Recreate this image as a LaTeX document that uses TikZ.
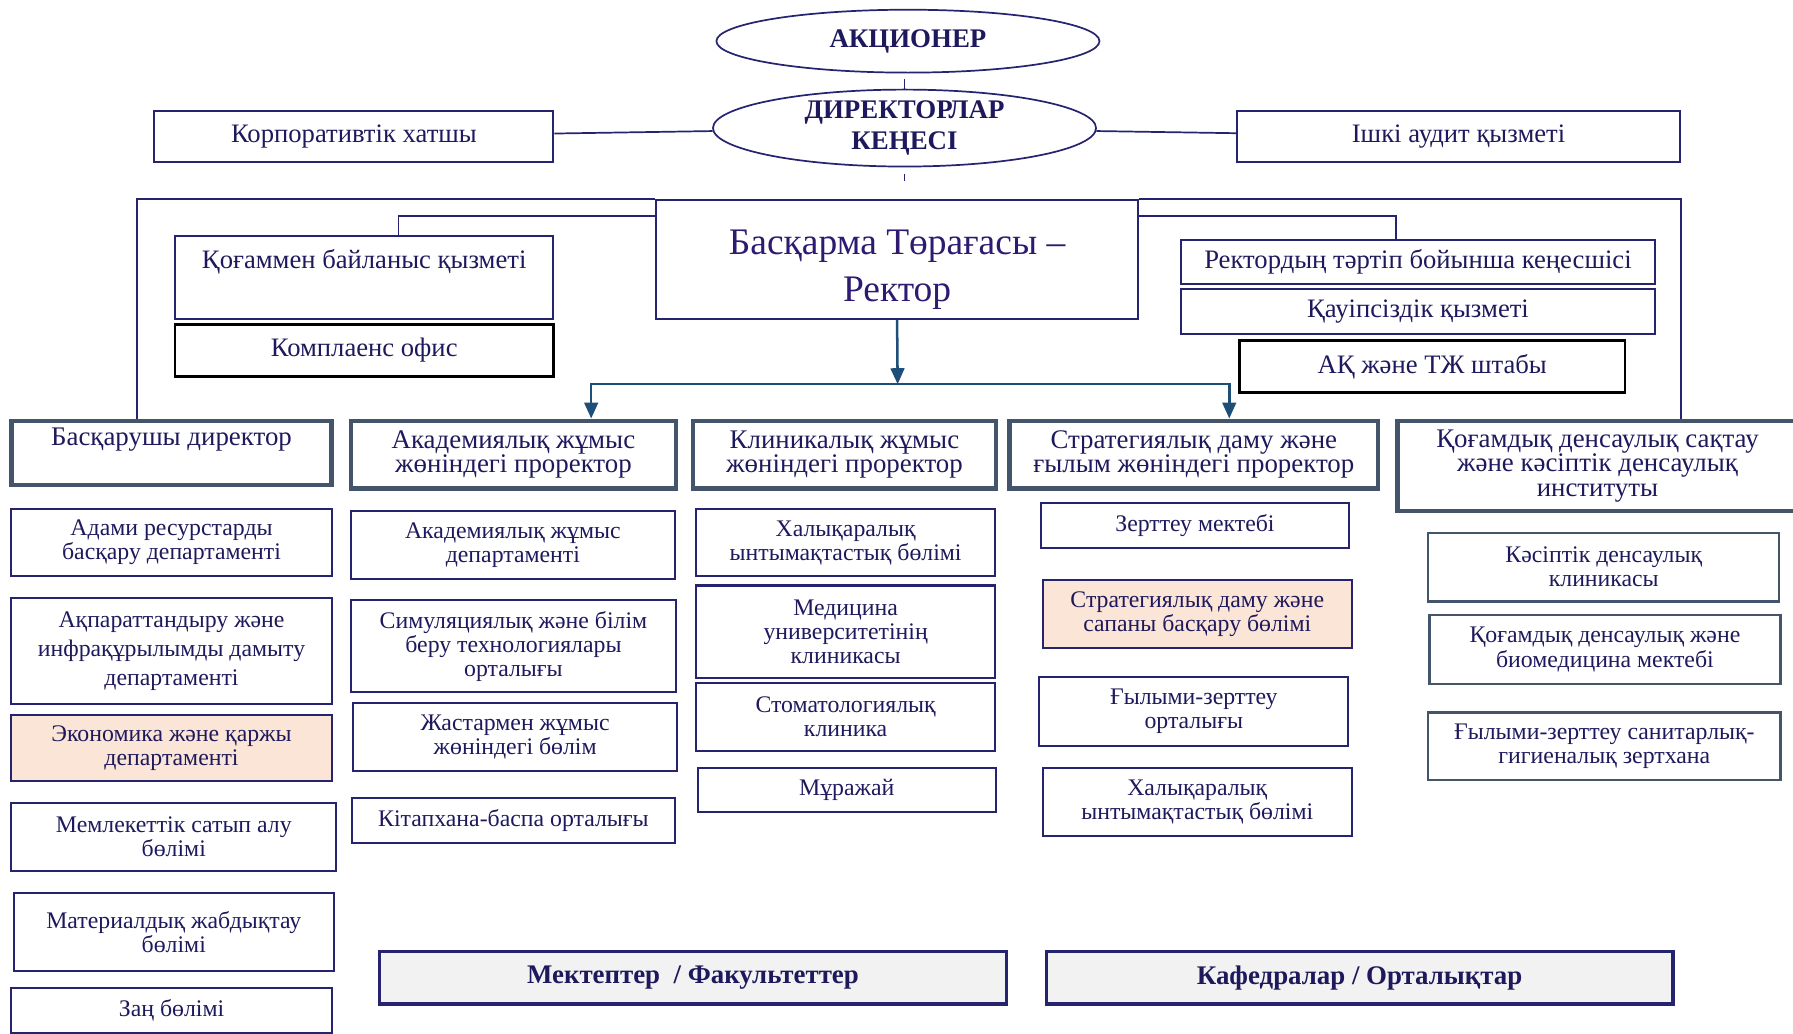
\documentclass[tikz,border=0pt]{standalone}
\usepackage{fontspec}
\setmainfont{Liberation Serif}
\usetikzlibrary{shapes.geometric,arrows.meta}
\definecolor{ink}{RGB}{30,25,92}
\definecolor{navy}{RGB}{38,36,112}
\definecolor{slate}{RGB}{68,84,106}
\definecolor{steel}{RGB}{31,78,121}
\definecolor{peach}{RGB}{251,229,214}
\definecolor{pale}{RGB}{242,242,242}
\definecolor{rektink}{RGB}{46,26,112}

\begin{document}
\begin{tikzpicture}[x=1pt,y=-1pt,
  unit/.style={draw=navy, line width=1.8pt, text=ink, align=center, inner sep=1pt, font=\fontsize{20.8}{21}\selectfont},
  head/.style={unit, draw=slate, line width=4pt, font=\fontsize{23.5}{21.5}\selectfont},
  sub/.style={unit, draw=slate, line width=2pt},
  hot/.style={unit, fill=peach},
  blk/.style={unit, draw=black, line width=2.4pt, font=\fontsize{23.3}{24}\selectfont},
  top/.style={unit, font=\fontsize{23.3}{24}\selectfont},
  oval/.style={ellipse, draw=navy, line width=1.5pt, text=ink, align=center, inner sep=0pt, font=\bfseries\fontsize{23.5}{27}\selectfont},
  foot/.style={unit, fill=pale, line width=2.8pt, font=\bfseries\fontsize{23.5}{24}\selectfont},
  link/.style={draw=navy, line width=1.5pt},
  arr/.style={draw=steel, line width=2.2pt, -{Triangle[length=14pt,width=12pt]}}]
\useasboundingbox (0,0) rectangle (1568,904);

\node[oval, minimum width=335pt, minimum height=55pt] (aksioner) at (794,36) {АКЦИОНЕР};
\node[oval, minimum width=335pt, minimum height=58pt] (kenes) at (791,112) {ДИРЕКТОРЛАР\\КЕҢЕСІ};
\node[top, minimum width=349pt, minimum height=45pt] (korp) at (309.5,119.5) {Корпоративтік хатшы};
\node[top, minimum width=387pt, minimum height=45pt] (audit) at (1275.5,119.5) {Ішкі аудит қызметі};
\coordinate (kenesend) at (791,158);

\node[unit, text=rektink, minimum width=421pt, minimum height=104pt, font=\fontsize{32.8}{41}\selectfont] (rektor) at (784.5,227) {\rule{0pt}{39pt}Басқарма Төрағасы –\\Ректор};
\node[top, minimum width=331pt, minimum height=73pt] (pr) at (318.5,242.5) {Қоғаммен байланыс қызметі\\\strut};
\node[blk, minimum width=331pt, minimum height=45pt] (komp) at (318.5,306.5) {Комплаенс офис};
\node[top, minimum width=414pt, minimum height=38pt] (kenesshi) at (1240,229) {Ректордың тәртіп бойынша кеңесшісі};
\node[top, minimum width=414pt, minimum height=39pt] (qauip) at (1240,272.5) {Қауіпсіздік қызметі};
\node[blk, minimum width=337pt, minimum height=45pt] (shtab) at (1252.5,320.5) {АҚ және ТЖ штабы};
\coordinate (fork) at (785,336);

\node[head, minimum width=280pt, minimum height=56pt] (bask) at (150,396) {Басқарушы директор\\\strut};
\node[head, minimum width=284pt, minimum height=59pt] (akad) at (449,397.5) {Академиялық жұмыс\\жөніндегі проректор};
\node[head, minimum width=265pt, minimum height=59pt] (klin) at (738.5,397.5) {Клиникалық жұмыс\\жөніндегі проректор};
\node[head, minimum width=322pt, minimum height=59pt] (strat) at (1044,397.5) {Стратегиялық даму және\\ғылым жөніндегі проректор};
\node[head, minimum width=350pt, minimum height=79pt] (inst) at (1397,407.5) {Қоғамдық денсаулық сақтау\\және кәсіптік денсаулық\\институты};

\node[unit, minimum width=280pt, minimum height=59pt] (hr) at (150,474.5) {Адами ресурстарды\\басқару департаменті};
\node[unit, minimum width=280pt, minimum height=93pt, font=\fontsize{20.8}{25}\selectfont] (it) at (150,569.5) {Ақпараттандыру және\\инфрақұрылымды дамыту\\департаменті};
\node[hot, minimum width=280pt, minimum height=58pt] (econ) at (150,654) {Экономика және қаржы\\департаменті};
\node[unit, minimum width=284pt, minimum height=60pt] (zakup) at (152,732) {Мемлекеттік сатып алу\\бөлімі};
\node[unit, minimum width=280pt, minimum height=68pt] (mat) at (152,815) {Материалдық жабдықтау\\бөлімі};
\node[unit, minimum width=280pt, minimum height=39pt] (zan) at (150,883.5) {Заң бөлімі};

\node[unit, minimum width=283pt, minimum height=59pt] (akdep) at (448.5,476.5) {Академиялық жұмыс\\департаменті};
\node[unit, minimum width=284pt, minimum height=80pt] (sim) at (449,565) {Симуляциялық және білім\\беру технологиялары\\орталығы};
\node[unit, minimum width=283pt, minimum height=59pt] (jast) at (450.5,644.5) {Жастармен жұмыс\\жөніндегі бөлім};
\node[unit, minimum width=282pt, minimum height=39pt] (kitap) at (449,717.5) {Кітапхана-баспа орталығы};

\node[unit, minimum width=261pt, minimum height=59pt] (halyk) at (739.5,474.5) {Халықаралық\\ынтымақтастық бөлімі};
\node[unit, minimum width=261pt, minimum height=81pt] (klinika) at (739.5,552.5) {Медицина\\университетінің\\клиникасы};
\node[unit, minimum width=261pt, minimum height=60pt] (stom) at (739.5,627) {Стоматологиялық\\клиника};
\node[unit, minimum width=261pt, minimum height=38pt] (muz) at (740.5,691) {Мұражай};

\node[unit, minimum width=270pt, minimum height=39pt] (zmek) at (1045,459.5) {Зерттеу мектебі};
\node[hot, minimum width=270pt, minimum height=60pt] (sapa) at (1047,537) {Стратегиялық даму және\\сапаны басқару бөлімі};
\node[unit, minimum width=270pt, minimum height=60pt] (gzo) at (1044,622) {Ғылыми-зерттеу\\орталығы};
\node[unit, minimum width=270pt, minimum height=59pt] (halyktwo) at (1047,701.5) {Халықаралық\\ынтымақтастық бөлімі};

\node[sub, minimum width=307pt, minimum height=60pt] (kdk) at (1402.5,496) {Кәсіптік денсаулық\\клиникасы};
\node[sub, minimum width=307pt, minimum height=60pt] (qdb) at (1403.5,568) {Қоғамдық денсаулық және\\биомедицина мектебі};
\node[sub, minimum width=308pt, minimum height=59pt] (sgz) at (1403,652.5) {Ғылыми-зерттеу санитарлық-\\гигиеналық зертхана};

\node[foot, minimum width=548pt, minimum height=46pt] (mekt) at (606,855) {Мектептер \ / Факультеттер};
\node[foot, minimum width=548pt, minimum height=46pt] (kaf) at (1189,855) {Кафедралар / Орталықтар};

\draw[link] ([yshift=-5pt]aksioner.south -| kenes.north) -- (kenes.north);
\draw[link] ([yshift=-6pt]kenes.south) -- (kenesend);
\draw[link] (korp) -- (kenes);
\draw[link] (kenes) -- (audit);
\draw[link] ([xshift=-30pt]bask.north) |- (rektor.north west);
\draw[link] (rektor.north east) -| (inst.north -| audit.east);
\draw[link] ([yshift=-15pt]rektor.north west) -| ([xshift=30pt]pr.north);
\draw[link] ([yshift=-15pt]rektor.north east) -| ([xshift=-19pt]kenesshi.north);
\draw[arr] (rektor.south) -- (fork);
\draw[arr] (fork) -| ([xshift=68pt]akad.north);
\draw[arr] (fork) -| ([xshift=31pt]strat.north);
\end{tikzpicture}
\end{document}
